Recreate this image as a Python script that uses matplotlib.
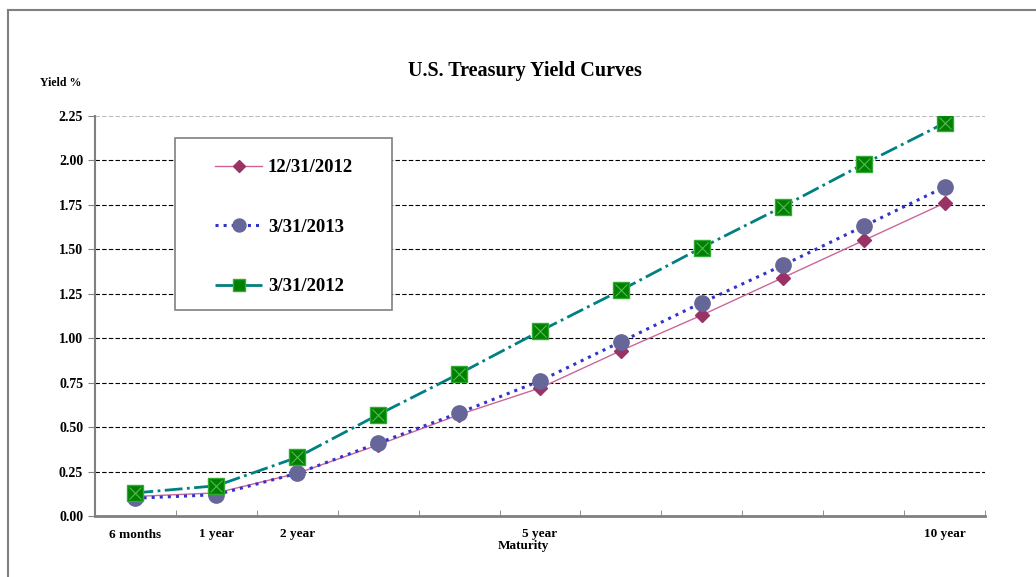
import numpy as np
import matplotlib.pyplot as plt
from matplotlib.patches import Rectangle
from matplotlib.lines import Line2D

plt.rcParams['font.family'] = ['Liberation Serif', 'DejaVu Serif']
plt.rcParams['font.weight'] = 'bold'

# data
maturity_labels = ['6 months', '1 year', '2 year', '', '', '5 year', '', '', '', '', '10 year']
y_dec2012 = [0.11, 0.13, 0.24, 0.40, 0.57, 0.72, 0.93, 1.13, 1.34, 1.55, 1.76]
y_mar2013 = [0.10, 0.12, 0.24, 0.41, 0.58, 0.76, 0.98, 1.20, 1.41, 1.63, 1.85]
y_mar2012 = [0.13, 0.17, 0.33, 0.57, 0.80, 1.04, 1.27, 1.51, 1.74, 1.98, 2.21]
series_names = ['12/31/2012', '3/31/2013', '3/31/2012']

x = np.arange(len(maturity_labels))

W, H = 1036, 577
fig = plt.figure(figsize=(W / 100, H / 100), dpi=100)
ax = fig.add_axes([95/W, 61/H, 890/W, 400/H])

# outer frame (left and top only visible)
fig.add_artist(Line2D([8/W, 8/W], [0, 1 - 10/H], transform=fig.transFigure,
                      color='#808080', lw=1.5))
fig.add_artist(Line2D([8/W, 1], [1 - 10/H, 1 - 10/H], transform=fig.transFigure,
                      color='#808080', lw=1.5))

ax.plot(x, y_dec2012, '-', color='#cc6699', lw=1.0, marker='D', ms=7,
        mfc='#993366', mec='#993366', label=series_names[0], zorder=3)
ax.plot(x, y_mar2013, ':', color='#3333cc', lw=2.2, marker='o', ms=11,
        mfc='#666699', mec='#666699', label=series_names[1], zorder=4)
ax.plot(x, y_mar2012, '-.', color='#008080', lw=2.0, marker='s', ms=11,
        mfc='#008000', mec='#33aa33', label=series_names[2], zorder=5)
ax.plot(x, y_mar2012, 'x', color='#55bb55', ms=8, mew=0.8, zorder=6)

ax.set_xlim(-0.5, 10.5)
ax.set_ylim(0, 2.25)
ax.set_yticks(np.arange(0, 2.26, 0.25))
ax.set_yticklabels([f'{v:.2f}' for v in np.arange(0, 2.26, 0.25)], fontsize=10, fontweight='bold')
ax.set_xticks(x)
ax.set_xticklabels(maturity_labels, fontsize=9.5, fontweight='bold')
ax.tick_params(axis='x', which='major', length=0, pad=9)
ax.set_xticks(np.arange(-0.5, 10.6, 1), minor=True)
ax.tick_params(axis='x', which='minor', direction='in', length=4, color='#808080')
ax.tick_params(axis='y', direction='out', length=5, color='#808080')

for v in np.arange(0.25, 2.01, 0.25):
    ax.axhline(v, color='black', lw=0.8, ls=(0, (4, 2)), zorder=1)
ax.axhline(2.25, color='#bbbbbb', lw=0.8, ls=(0, (4, 2)), zorder=1)

for side in ['top', 'right']:
    ax.spines[side].set_visible(False)
ax.spines['left'].set_color('#808080')
ax.spines['bottom'].set_color('#808080')
ax.spines['left'].set_linewidth(1.5)
ax.spines['bottom'].set_linewidth(2)

fig.text(525/W, 1 - 71/H, 'U.S. Treasury Yield Curves', ha='center', va='center',
         fontsize=14.5, fontweight='bold')
fig.text(40/W, 1 - 83/H, 'Yield %', ha='left', va='center', fontsize=8.5, fontweight='bold')
fig.text(523/W, 1 - 546/H, 'Maturity', ha='center', va='center', fontsize=9.5, fontweight='bold')

# legend box drawn separately so it can be wider than the entries
box = Rectangle((175/W, 1 - 310/H), 217/W, 172/H, transform=fig.transFigure,
                facecolor='white', edgecolor='#808080', lw=1.2, zorder=8)
fig.add_artist(box)
leg = fig.legend(*ax.get_legend_handles_labels(), loc='upper left',
                 bbox_to_anchor=(206/W, 1 - 150/H), fontsize=13.5,
                 labelspacing=2.25, handlelength=2.5, borderpad=0, handletextpad=0.3,
                 frameon=False, markerscale=0.85)
leg.set_zorder(10)
for t in leg.get_texts():
    t.set_fontweight('bold')

fig.savefig('out.png', dpi=100)
